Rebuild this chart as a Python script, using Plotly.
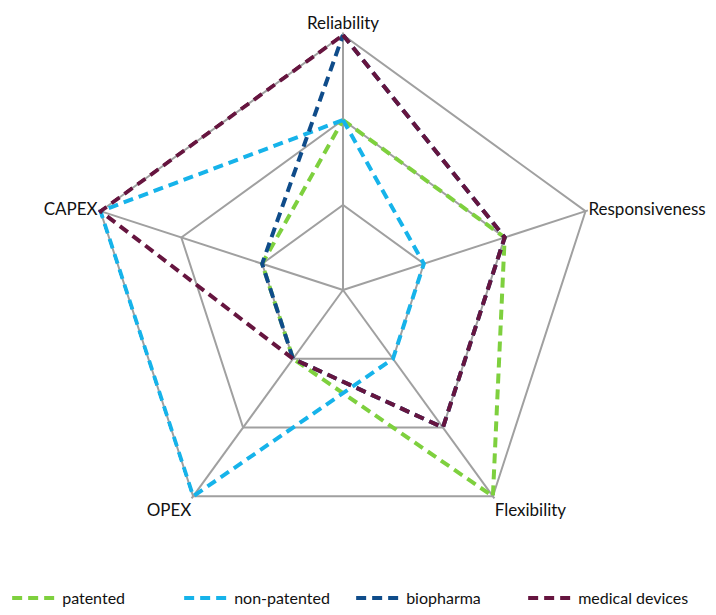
import plotly.graph_objects as go

categories = ["Reliability", "Responsiveness", "Flexibility", "OPEX", "CAPEX"]
patented = [2, 2, 3, 1, 1]
non_patented = [2, 1, 1, 3, 3]
biopharma = [3, 2, 2, 1, 1]
medical_devices = [3, 2, 2, 1, 3]
grid_levels = [1, 2, 3]

series = [
    ("patented", patented, "#7ed03e"),
    ("non-patented", non_patented, "#16b3ea"),
    ("biopharma", biopharma, "#0f4c8a"),
    ("medical devices", medical_devices, "#66153f"),
]

fig = go.Figure()
for name, vals, color in series:
    fig.add_trace(go.Scatterpolar(
        r=vals + vals[:1],
        theta=categories + categories[:1],
        mode="lines",
        name=name,
        cliponaxis=False,
        line=dict(color=color, width=4, dash="10px,6px"),
    ))

RMAX = 3.03
R_PX = 255 * RMAX / 3
CX, CY = 343, 615 - 290

fig.update_layout(
    width=716, height=615,
    margin=dict(l=0, r=0, t=0, b=0),
    paper_bgcolor="white",
    font=dict(family="Lato, Open Sans, sans-serif", size=17, color="#111111"),
    polar=dict(
        domain=dict(x=[(CX - R_PX) / 716, (CX + R_PX) / 716],
                    y=[(CY - R_PX) / 615, (CY + R_PX) / 615]),
        bgcolor="white",
        gridshape="linear",
        radialaxis=dict(range=[0, RMAX], tickvals=grid_levels, showticklabels=False, ticks="",
                        showline=False, gridcolor="#a0a0a0", gridwidth=2,
                        layer="below traces"),
        angularaxis=dict(rotation=90, direction="clockwise", ticks="",
                         showline=False,
                         gridcolor="#a0a0a0", gridwidth=2,
                         layer="below traces",
                         tickfont=dict(size=17)),
    ),
    legend=dict(orientation="h", x=0.01, xanchor="left", y=0.0, yanchor="bottom",
                font=dict(size=16), itemwidth=45,
                entrywidth=112, entrywidthmode="pixels"),
)

fig.write_html("out.html")
